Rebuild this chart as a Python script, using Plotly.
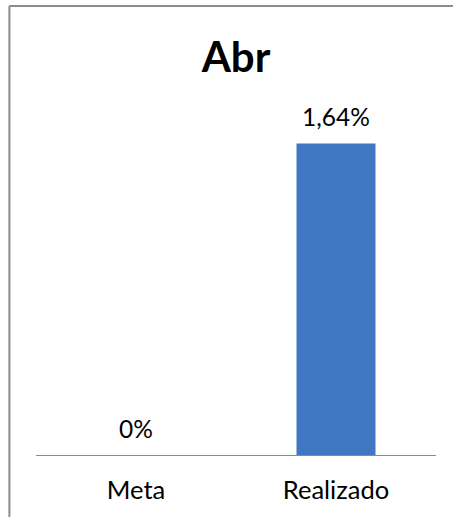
import plotly.graph_objects as go

categories = ["Meta", "Realizado"]
values = [0.0, 1.64]
title_text = "Abr"


def fmt(v):
    if v == 0:
        return "0%"
    return f"{v:.2f}".replace(".", ",") + "%"


labels = [fmt(v) for v in values]

FONT = "Lato, 'Liberation Sans', Arial, sans-serif"

fig = go.Figure()
fig.add_trace(go.Bar(
    x=categories,
    y=values,
    width=0.395,
    marker=dict(color="#4077C2", line=dict(width=0)),
    hoverinfo="skip",
))

for c, v, t in zip(categories, values, labels):
    fig.add_annotation(
        x=c, y=v, text=t, showarrow=False, xref="x", yref="y",
        yanchor="middle", yshift=27,
        font=dict(family=FONT, size=24.5, color="#000000"),
    )

# chart frame: left and top edges (right/bottom edges lie beyond the view)
frame = dict(color="#8C8C8C", width=2)
fig.add_shape(type="line", xref="paper", yref="paper",
              x0=-0.0665, x1=-0.0665, y0=-0.2, y1=1.313, line=frame)
fig.add_shape(type="line", xref="paper", yref="paper",
              x0=-0.0665, x1=1.05, y0=1.313, y1=1.313, line=frame)

fig.update_layout(
    width=453, height=517,
    margin=dict(l=36, r=17, t=113, b=62, autoexpand=False),
    paper_bgcolor="white", plot_bgcolor="white",
    showlegend=False,
    title=dict(text="<b>" + title_text + "</b>", x=236 / 453, y=1 - 57 / 517,
               xref="container", yref="container",
               xanchor="center", yanchor="middle",
               font=dict(family=FONT, size=42, color="#000000")),
    xaxis=dict(showline=True, linecolor="#8C8C8C", linewidth=1,
               ticks="", showgrid=False, zeroline=False,
               automargin=False, ticklabelstandoff=12,
               tickfont=dict(family=FONT, size=25.5, color="#000000")),
    yaxis=dict(range=[0, 1.8], visible=False, showgrid=False, zeroline=False,
               automargin=False),
)

fig.write_html(
    "out.html",
    config={"displayModeBar": False},
    post_script="document.body.style.margin='0';document.body.style.overflow='hidden';",
)
